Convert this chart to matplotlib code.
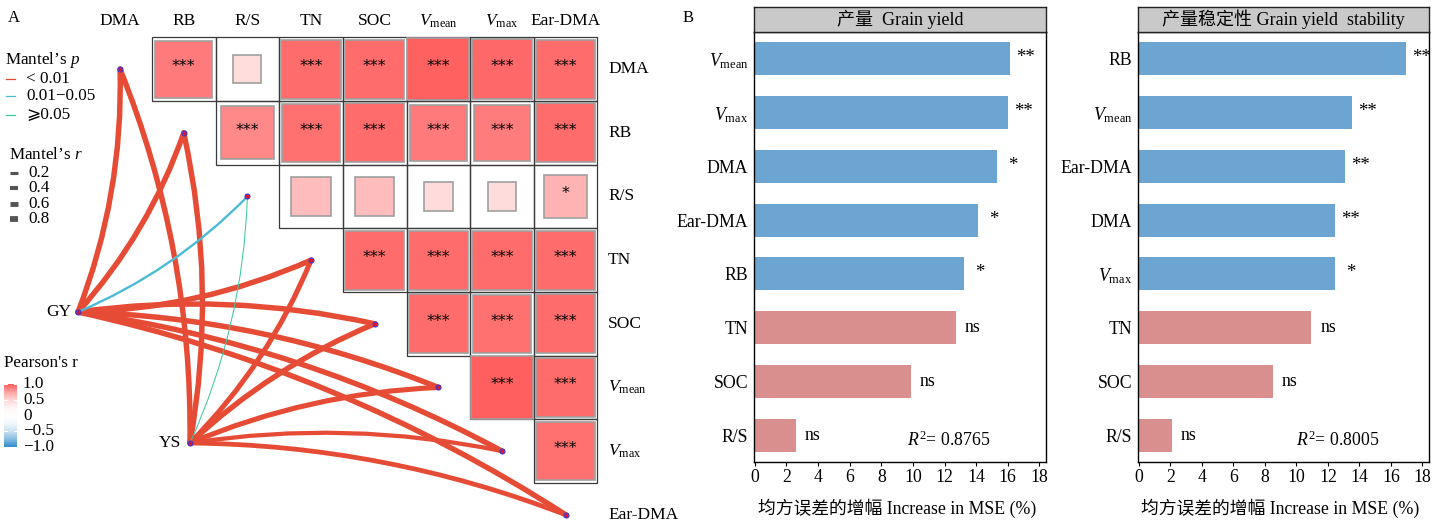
import matplotlib
matplotlib.use('Agg')
import matplotlib.pyplot as plt
import numpy as np
from matplotlib.patches import Rectangle, FancyArrowPatch
from matplotlib.colors import LinearSegmentedColormap, Normalize
from matplotlib.lines import Line2D

plt.rcParams['font.family'] = ['Liberation Serif', 'DejaVu Sans', 'Noto Sans CJK SC']
plt.rcParams['mathtext.fontset'] = 'custom'
plt.rcParams['mathtext.rm'] = 'Liberation Serif'
plt.rcParams['mathtext.it'] = 'Liberation Serif:italic'
plt.rcParams['axes.unicode_minus'] = True

# ---------------- data ----------------
variables = ['DMA', 'RB', 'R/S', 'TN', 'SOC', 'Vmean', 'Vmax', 'Ear-DMA']
var_labels = ['DMA', 'RB', 'R/S', 'TN', 'SOC',
              r'$\mathit{V}_{\mathrm{mean}}$', r'$\mathit{V}_{\mathrm{max}}$', 'Ear-DMA']

# Pearson's r, upper triangle (row i, columns i+1 ... 7)
corr_rows = [
    [0.89, 0.44, 0.93, 0.93, 0.97, 0.95, 0.93],
    [0.83, 0.92, 0.93, 0.89, 0.88, 0.93],
    [0.62, 0.62, 0.46, 0.45, 0.67],
    [0.93, 0.93, 0.93, 0.93],
    [0.93, 0.92, 0.93],
    [0.98, 0.93],
    [0.92],
]
sig_rows = [
    ['***', '', '***', '***', '***', '***', '***'],
    ['***', '***', '***', '***', '***', '***'],
    ['', '', '', '', '*'],
    ['***', '***', '***', '***'],
    ['***', '***', '***'],
    ['***', '***'],
    ['***'],
]

env_names = ['GY', 'YS']
mantel_r_GY = [0.80, 0.80, 0.35, 0.80, 0.80, 0.80, 0.80, 0.80]
mantel_p_GY = ['<0.01', '<0.01', '0.01-0.05', '<0.01', '<0.01', '<0.01', '<0.01', '<0.01']
mantel_r_YS = [0.80, 0.80, 0.15, 0.75, 0.80, 0.75, 0.62, 0.70]
mantel_p_YS = ['<0.01', '<0.01', '>=0.05', '<0.01', '<0.01', '<0.01', '<0.01', '<0.01']

yield_vars = ['Vmean', 'Vmax', 'DMA', 'Ear-DMA', 'RB', 'TN', 'SOC', 'R/S']
yield_inc = [16.12, 16.01, 15.31, 14.09, 13.24, 12.74, 9.86, 2.58]
yield_sig = ['**', '**', '*', '*', '*', 'ns', 'ns', 'ns']
yield_r2 = '0.8765'

stab_vars = ['RB', 'Vmean', 'Ear-DMA', 'DMA', 'Vmax', 'TN', 'SOC', 'R/S']
stab_inc = [16.95, 13.52, 13.08, 12.43, 12.43, 10.96, 8.50, 2.08]
stab_sig = ['**', '**', '**', '**', '*', 'ns', 'ns', 'ns']
stab_r2 = '0.8005'

label_map = dict(zip(variables, var_labels))

# ---------------- styles ----------------
W, H = 1437, 527
fig = plt.figure(figsize=(W / 100, H / 100), dpi=100)
PT = 72 / 100  # points per pixel

def fx(x):
    return x / W

def fy(y):
    return 1 - y / H

FS = 12.3
p_colors = {'<0.01': '#E64B35', '0.01-0.05': '#4DBBD5', '>=0.05': '#3CC8A0'}

cmap = LinearSegmentedColormap.from_list('pr', [
    (0.0, '#2E8BCA'), (0.125, '#89BEE1'), (0.25, '#CBE2F2'), (0.375, '#F2F8FC'),
    (0.5, '#FFFFFF'), (0.625, '#FFF5F5'), (0.75, '#FFD6D6'), (0.875, '#FFA2A2'),
    (1.0, '#FF5A5A')])
norm = Normalize(-1, 1)

# ---------------- panel A ----------------
U = 63.65
X0, Y0 = 120.1, 69.2
axA = fig.add_axes([0, 0, 680 / W, 1])
axA.set_xlim((0 - X0) / U, (680 - X0) / U)
axA.set_ylim((H - Y0) / U, (0 - Y0) / U)
axA.axis('off')

n = len(variables)
for i in range(n - 1):
    for k, j in enumerate(range(i + 1, n)):
        r = corr_rows[i][k]
        axA.add_patch(Rectangle((j - 0.5, i - 0.5), 1, 1, facecolor='none',
                                edgecolor='#3a3a3a', lw=0.9, zorder=1))
        s = abs(r)
        axA.add_patch(Rectangle((j - s / 2, i - s / 2), s, s, facecolor=cmap(norm(r)),
                                edgecolor='#a0a0a0', lw=1.2, zorder=2))
        if sig_rows[i][k]:
            axA.text(j, i - 0.04, sig_rows[i][k], ha='center', va='center',
                     fontsize=11.5, family='DejaVu Sans', zorder=3)

for j in range(n):
    axA.text(j, (21 - Y0) / U, var_labels[j], ha='center', va='center', fontsize=12.5)
    axA.text((608 - X0) / U, j, var_labels[j], ha='left', va='center', fontsize=12.5)

env_pos = {'GY': ((78 - X0) / U, (312 - Y0) / U), 'YS': ((190 - X0) / U, (443 - Y0) / U)}
mantel = {'GY': (mantel_r_GY, mantel_p_GY), 'YS': (mantel_r_YS, mantel_p_YS)}
for e in env_names:
    rs, ps = mantel[e]
    ex, ey = env_pos[e]
    for k in range(n):
        rad = 0.1 if k < 4 else -0.09
        lw = rs[k] * 6.8 * PT
        patch = FancyArrowPatch((ex, ey), (k, k), arrowstyle='-',
                                connectionstyle=f'arc3,rad={rad}',
                                color=p_colors[ps[k]], lw=lw, shrinkA=0, shrinkB=0,
                                zorder=4 if ps[k] == '<0.01' else 5)
        axA.add_patch(patch)

node_x = [env_pos[e][0] for e in env_names] + list(range(n))
node_y = [env_pos[e][1] for e in env_names] + list(range(n))
axA.plot(node_x, node_y, 'o', ms=3.6, mfc='#E0142A', mec='#3A3AD8', mew=0.8, zorder=6)
axA.text(env_pos['GY'][0] - 0.1, env_pos['GY'][1], 'GY', ha='right', va='center', fontsize=12.5)
axA.text(env_pos['YS'][0] - 0.14, env_pos['YS'][1], 'YS', ha='right', va='center', fontsize=12.5)

# panel labels
fig.text(fx(8), fy(18), 'A', ha='left', va='center', fontsize=12)
fig.text(fx(683), fy(18), 'B', ha='left', va='center', fontsize=12)

# Mantel's p legend
fig.text(fx(5), fy(60), r'Mantel’s $\mathit{p}$', ha='left', va='center', fontsize=FS)
p_labels = ['< 0.01', '0.01−0.05', '⩾0.05']
for k, (key, lab) in enumerate(zip(['<0.01', '0.01-0.05', '>=0.05'], p_labels)):
    yy = [79, 96, 115][k]
    fig.add_artist(Line2D([fx(6), fx(15)], [fy(yy), fy(yy)], transform=fig.transFigure,
                          color=p_colors[key], lw=0.9))
    fig.text(fx(26), fy(yy), lab, ha='left', va='center', fontsize=FS)

# Mantel's r legend
fig.text(fx(9), fy(155), r'Mantel’s $\mathit{r}$', ha='left', va='center', fontsize=FS)
for k, val in enumerate([0.2, 0.4, 0.6, 0.8]):
    yy = 173 + 15.3 * k
    fig.add_artist(Line2D([fx(10), fx(18)], [fy(yy), fy(yy)], transform=fig.transFigure,
                          color='#555555', lw=(2.2 + val * 4.5) * PT, solid_capstyle='butt'))
    fig.text(fx(28), fy(yy), f'{val:.1f}', ha='left', va='center', fontsize=FS)

# Pearson's r colorbar
fig.text(fx(4), fy(363), "Pearson's r", ha='left', va='center', fontsize=FS)
cax = fig.add_axes([fx(4), fy(447), 13 / W, 63 / H])
cax.imshow(np.linspace(1, -1, 256)[:, None], aspect='auto', cmap=cmap, norm=norm,
           extent=[0, 1, -1, 1])
cax.set_xlim(0, 1)
cax.set_ylim(-1, 1)
cax.axis('off')
for v in [-1, -0.5, 0, 0.5, 1]:
    cax.plot([0, 0.2], [v, v], color='white', lw=0.8)
    cax.plot([0.8, 1], [v, v], color='white', lw=0.8)
for v, lab in zip([1, 0.5, 0, -0.5, -1], ['1.0', '0.5', '0', '−0.5', '−1.0']):
    yy = 447 - (v + 1) / 2 * 63
    fig.text(fx(23), fy(yy), lab, ha='left', va='center', fontsize=FS)

# ---------------- panel B ----------------
blue = '#6CA4D2'
pink = '#DA8F8F'

def bar_panel(left_px, right_px, names, vals, sigs, title, r2, r2x):
    ax = fig.add_axes([fx(left_px), fy(462), (right_px - left_px) / W, 430 / H])
    pos = np.arange(len(names))
    cols = [pink if s == 'ns' else blue for s in sigs]
    ax.barh(pos, vals, height=0.61, color=cols, edgecolor='none', zorder=2)
    ax.set_ylim(len(names) - 0.5, -0.5)
    ax.set_xlim(-0.05, 18.42)
    ax.set_xticks(np.arange(0, 19, 2))
    ax.set_yticks(pos)
    ax.set_yticklabels([label_map[nm] for nm in names])
    ax.tick_params(axis='y', length=0, pad=4, labelsize=12.8)
    ax.tick_params(axis='x', length=3, width=0.8, pad=2, labelsize=12.8, direction='out')
    for sp in ax.spines.values():
        sp.set_color('black')
        sp.set_linewidth(1.0)
    for p, v, s in zip(pos, vals, sigs):
        if s == 'ns':
            ax.text(v + 1.05, p, s, ha='center', va='center', fontsize=12.8)
        else:
            ax.text(v + 1.0, p - 0.02, s, ha='center', va='center', fontsize=13.5)
    ax.text(r2x, 7.1, r'$\mathit{R}^{2}$= ' + r2, ha='left', va='center', fontsize=12.8)
    sax = fig.add_axes([fx(left_px), fy(32), (right_px - left_px) / W, 25 / H])
    sax.set_facecolor('#C9C9C9')
    sax.set_xticks([])
    sax.set_yticks([])
    for sp in sax.spines.values():
        sp.set_color('#222222')
        sp.set_linewidth(1.0)
    sax.text(0.5, 0.5, title, ha='center', va='center', fontsize=13, transform=sax.transAxes)
    fig.text(fx((left_px + right_px) / 2 - 3), fy(508), '均方误差的增幅 Increase in MSE (%)',
             ha='center', va='center', fontsize=12.8)
    return ax

bar_panel(754, 1046, yield_vars, yield_inc, yield_sig, '产量  Grain yield', yield_r2, 9.6)
bar_panel(1138, 1429, stab_vars, stab_inc, stab_sig, '产量稳定性 Grain yield  stability', stab_r2, 10.0)

fig.savefig('out.png', dpi=100)
